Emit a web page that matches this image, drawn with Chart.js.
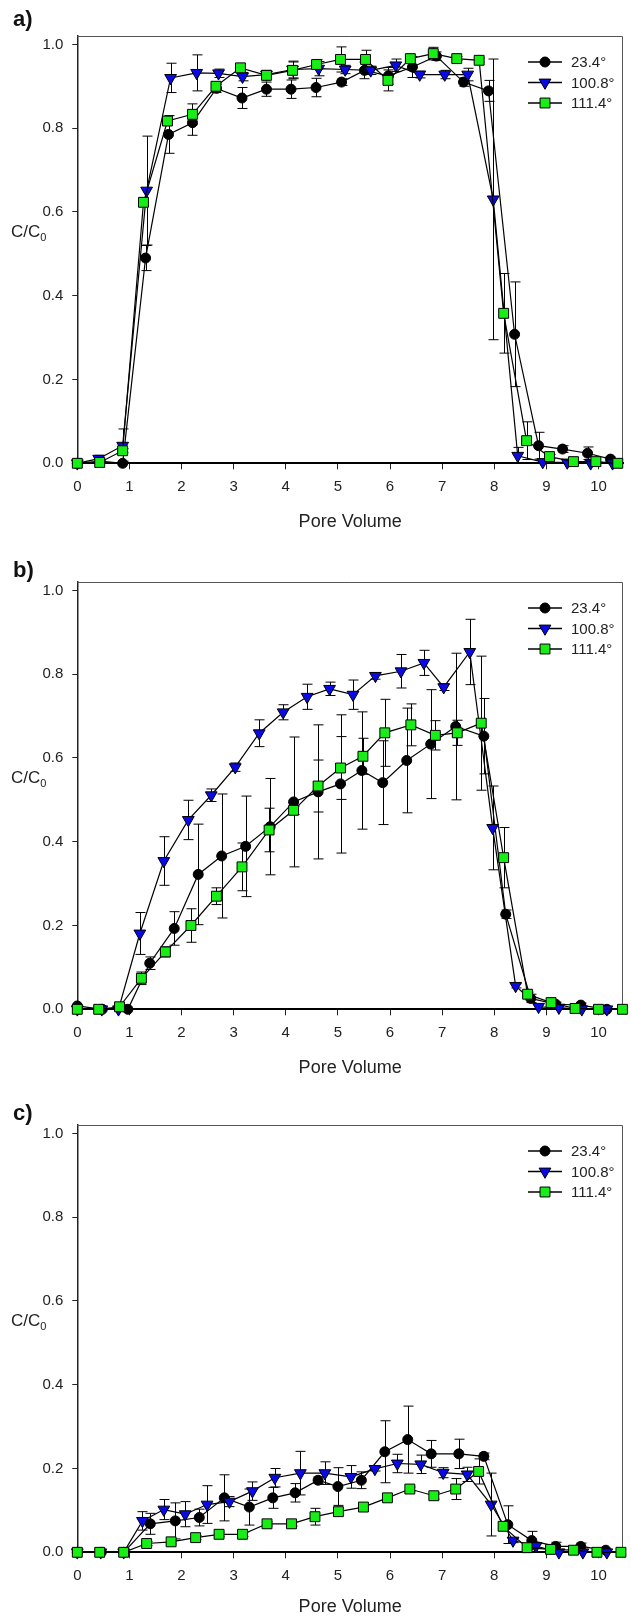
<!DOCTYPE html>
<html>
<head>
<meta charset="utf-8">
<script src="https://cdn.jsdelivr.net/npm/chart.js@4.4.0/dist/chart.umd.min.js"></script>
<style>
  body { margin: 0; background: #fff; width: 631px; height: 1617px; position: relative; overflow: hidden;
         font-family: "Liberation Sans", Arial, sans-serif; color: #222; }
  .panel { position: absolute; left: 0; width: 631px; }
  .panel canvas { position: absolute; left: 0; top: 0; }
  .tag { position: absolute; left: 13px; font: bold 22px "Liberation Sans", Arial, sans-serif; line-height: 1; color: #111; }
  .ylab { position: absolute; left: 11px; top: 223px; font-size: 17px; line-height: 1; }
  .ylab sub { font-size: 11px; vertical-align: -4px; }
</style>
</head>
<body>
<div class="panel" style="top:0px;height:546px">
  <canvas id="ca" width="631" height="546"></canvas>
  <div class="tag" style="top:8px">a)</div>
  <div class="ylab">C/C<sub>0</sub></div>
</div>
<div class="panel" style="top:546px;height:543px">
  <canvas id="cb" width="631" height="543"></canvas>
  <div class="tag" style="top:13px">b)</div>
  <div class="ylab">C/C<sub>0</sub></div>
</div>
<div class="panel" style="top:1089px;height:528px">
  <canvas id="cc" width="631" height="528"></canvas>
  <div class="tag" style="top:13px">c)</div>
  <div class="ylab">C/C<sub>0</sub></div>
</div>
<script>
const seriesNames = ['23.4°', '100.8°', '111.4°'];
const xTicks = [0, 1, 2, 3, 4, 5, 6, 7, 8, 9, 10];
const yTicks = [0, 0.2, 0.4, 0.6, 0.8, 1.0];

// panel a
const aX1 = [0, 0.44, 0.87, 1.31, 1.75, 2.21, 2.67, 3.16, 3.63, 4.10, 4.58, 5.07, 5.51, 5.97, 6.43, 6.89, 7.41, 7.89, 8.39, 8.85, 9.31, 9.79, 10.23];
const aY1 = [0, 0.005, 0, 0.49, 0.785, 0.813, 0.895, 0.872, 0.893, 0.893, 0.897, 0.91, 0.938, 0.925, 0.946, 0.972, 0.91, 0.889, 0.308, 0.042, 0.034, 0.024, 0.01];
const aE1 = [0, 0.005, 0.005, 0.03, 0.045, 0.03, 0.01, 0.025, 0.017, 0.022, 0.022, 0.008, 0.02, 0.02, 0.025, 0.01, 0.01, 0.025, 0.125, 0.032, 0.008, 0.015, 0.005];
const aX2 = [0, 0.41, 0.87, 1.33, 1.79, 2.29, 2.71, 3.17, 3.63, 4.13, 4.63, 5.14, 5.63, 6.11, 6.57, 7.05, 7.49, 7.98, 8.45, 8.93, 9.40, 9.85, 10.27];
const aY2 = [0, 0.011, 0.042, 0.651, 0.92, 0.932, 0.931, 0.923, 0.928, 0.94, 0.942, 0.94, 0.938, 0.95, 0.928, 0.928, 0.928, 0.63, 0.018, 0.003, 0.002, 0, 0];
const aE2 = [0, 0.008, 0.04, 0.13, 0.035, 0.043, 0.01, 0.01, 0.01, 0.02, 0.017, 0.01, 0.01, 0.015, 0.008, 0.01, 0.015, 0.335, 0.02, 0.003, 0.002, 0.002, 0.002];
const aX3 = [0, 0.43, 0.87, 1.27, 1.73, 2.21, 2.66, 3.13, 3.63, 4.13, 4.59, 5.05, 5.53, 5.96, 6.39, 6.83, 7.28, 7.71, 8.18, 8.62, 9.06, 9.52, 9.95, 10.37];
const aY3 = [0, 0.002, 0.03, 0.623, 0.817, 0.833, 0.9, 0.944, 0.926, 0.938, 0.952, 0.964, 0.964, 0.914, 0.966, 0.978, 0.966, 0.962, 0.358, 0.054, 0.016, 0.004, 0.004, 0];
const aE3 = [0, 0.003, 0.005, 0.01, 0.01, 0.025, 0.005, 0.008, 0.008, 0.02, 0.012, 0.03, 0.022, 0.025, 0.005, 0.015, 0.005, 0.005, 0.095, 0.045, 0.005, 0.003, 0.003, 0];

// panel b
const bX1 = [0, 0.48, 0.97, 1.39, 1.86, 2.32, 2.77, 3.23, 3.70, 4.15, 4.62, 5.05, 5.46, 5.86, 6.32, 6.78, 7.26, 7.80, 8.22, 8.70, 9.18, 9.66, 10.16];
const bY1 = [0.008, 0, 0, 0.11, 0.193, 0.322, 0.366, 0.389, 0.436, 0.495, 0.519, 0.538, 0.57, 0.541, 0.594, 0.633, 0.675, 0.652, 0.227, 0.026, 0.012, 0.01, 0];
const bE1 = [0, 0, 0, 0.015, 0.04, 0.12, 0.148, 0.12, 0.115, 0.155, 0.16, 0.165, 0.14, 0.1, 0.125, 0.13, 0.175, 0.09, 0.01, 0.01, 0.005, 0.005, 0];
const bX2 = [0, 0.47, 0.79, 1.20, 1.66, 2.13, 2.57, 3.03, 3.49, 3.95, 4.41, 4.84, 5.29, 5.72, 6.21, 6.65, 7.03, 7.53, 7.97, 8.41, 8.85, 9.24, 9.68, 10.16];
const bY2 = [0, 0, 0, 0.181, 0.354, 0.452, 0.511, 0.578, 0.659, 0.709, 0.746, 0.765, 0.751, 0.796, 0.807, 0.827, 0.769, 0.853, 0.433, 0.056, 0.006, 0.004, 0, 0];
const bE2 = [0, 0, 0, 0.05, 0.058, 0.047, 0.015, 0.01, 0.032, 0.018, 0.03, 0.016, 0.035, 0.008, 0.04, 0.03, 0.008, 0.078, 0.1, 0.005, 0.003, 0.003, 0, 0];
const bX3 = [0, 0.41, 0.81, 1.23, 1.69, 2.18, 2.67, 3.16, 3.68, 4.15, 4.62, 5.05, 5.48, 5.90, 6.40, 6.87, 7.29, 7.75, 8.18, 8.64, 9.09, 9.55, 10.0, 10.46];
const bY3 = [0, 0, 0.006, 0.074, 0.137, 0.2, 0.27, 0.34, 0.428, 0.475, 0.533, 0.576, 0.604, 0.66, 0.679, 0.654, 0.66, 0.683, 0.362, 0.036, 0.016, 0.002, 0, 0];
const bE3 = [0, 0, 0.005, 0.015, 0.012, 0.04, 0.02, 0.057, 0.052, 0.01, 0.062, 0.075, 0.043, 0.08, 0.05, 0.035, 0.03, 0.16, 0.072, 0.005, 0.005, 0.002, 0, 0];

// panel c
const cX1 = [0, 0.46, 0.89, 1.40, 1.88, 2.34, 2.82, 3.30, 3.75, 4.18, 4.62, 5.00, 5.45, 5.90, 6.34, 6.79, 7.32, 7.80, 8.26, 8.72, 9.18, 9.66, 10.14];
const cY1 = [0, 0, 0, 0.068, 0.075, 0.083, 0.13, 0.108, 0.13, 0.142, 0.172, 0.157, 0.172, 0.24, 0.269, 0.235, 0.235, 0.229, 0.066, 0.028, 0.014, 0.014, 0.005];
const cE1 = [0, 0, 0, 0.025, 0.043, 0.02, 0.055, 0.043, 0.025, 0.022, 0.008, 0.045, 0.02, 0.074, 0.08, 0.032, 0.035, 0.008, 0.045, 0.022, 0.01, 0.008, 0.003];
const cX2 = [0, 0.45, 0.89, 1.25, 1.66, 2.07, 2.49, 2.92, 3.36, 3.79, 4.28, 4.75, 5.25, 5.71, 6.14, 6.59, 7.02, 7.48, 7.94, 8.36, 8.80, 9.24, 9.70, 10.16];
const cY2 = [0, 0, 0, 0.075, 0.102, 0.091, 0.114, 0.121, 0.146, 0.178, 0.189, 0.189, 0.18, 0.199, 0.212, 0.21, 0.19, 0.186, 0.114, 0.028, 0.015, 0, 0, 0];
const cE2 = [0, 0, 0, 0.022, 0.024, 0.03, 0.045, 0.012, 0.022, 0.022, 0.052, 0.027, 0.027, 0.005, 0.022, 0.022, 0.012, 0.017, 0.075, 0.005, 0.005, 0, 0, 0];
const cX3 = [0, 0.43, 0.89, 1.33, 1.80, 2.27, 2.72, 3.17, 3.64, 4.11, 4.56, 5.01, 5.49, 5.95, 6.38, 6.84, 7.26, 7.70, 8.17, 8.63, 9.08, 9.52, 9.97, 10.43];
const cY3 = [0, 0, 0, 0.021, 0.025, 0.035, 0.043, 0.043, 0.068, 0.068, 0.085, 0.097, 0.108, 0.13, 0.151, 0.135, 0.151, 0.193, 0.062, 0.011, 0.007, 0.005, 0, 0];
const cE3 = [0, 0, 0, 0.005, 0.005, 0.005, 0.005, 0.005, 0.005, 0.005, 0.02, 0.008, 0.005, 0.005, 0.005, 0.008, 0.025, 0.03, 0.005, 0.003, 0.003, 0.002, 0, 0];

const markers = [
  { pointStyle: 'circle', radius: 5, rotation: 0, fill: '#000' },
  { pointStyle: 'triangle', radius: 6.8, rotation: 180, fill: '#0a0ae6' },
  { pointStyle: 'rect', radius: 7, rotation: 0, fill: '#16ee16' }
];

const PLOT_TOP = 36, PLOT_BOTTOM = 463.3, PLOT_LEFT = 77.3;

// vertical error bars with caps, drawn behind the markers
const errorBars = {
  id: 'errorBars',
  beforeDatasetsDraw(chart) {
    const { ctx, scales: { x, y } } = chart;
    ctx.save();
    ctx.strokeStyle = '#000';
    ctx.lineWidth = 1;
    chart.data.datasets.forEach(ds => {
      ds.data.forEach((p, i) => {
        const e = ds.errors[i];
        if (!e || e < 0.004) return;
        const px = Math.round(x.getPixelForValue(p.x)) + 0.5;
        const top = y.getPixelForValue(p.y + e);
        const bot = y.getPixelForValue(Math.max(p.y - e, 0));
        ctx.beginPath();
        ctx.moveTo(px, top); ctx.lineTo(px, bot);
        ctx.moveTo(px - 5, top); ctx.lineTo(px + 5, top);
        ctx.moveTo(px - 5, bot); ctx.lineTo(px + 5, bot);
        ctx.stroke();
      });
    });
    ctx.restore();
  }
};

// top and right sides of the frame
const frame = {
  id: 'frame',
  beforeDatasetsDraw(chart) {
    const { ctx, chartArea: a } = chart;
    ctx.save();
    ctx.strokeStyle = '#555';
    ctx.lineWidth = 1;
    ctx.beginPath();
    ctx.moveTo(a.left, a.top + 0.5);
    ctx.lineTo(a.right - 0.5, a.top + 0.5);
    ctx.lineTo(a.right - 0.5, a.bottom);
    ctx.stroke();
    ctx.restore();
  }
};

function drawMarker(ctx, m, x, y) {
  ctx.fillStyle = m.fill;
  ctx.strokeStyle = '#000';
  ctx.lineWidth = 1;
  Chart.helpers.drawPoint(ctx, { pointStyle: m.pointStyle, radius: m.radius, rotation: m.rotation, borderWidth: 1 }, x, y);
}

// SigmaPlot style legend: line with marker, then label
const lineLegend = {
  id: 'lineLegend',
  afterDraw(chart) {
    const { ctx } = chart;
    ctx.save();
    ctx.font = '15px "Liberation Sans", Arial, sans-serif';
    ctx.textBaseline = 'middle';
    seriesNames.forEach((name, i) => {
      const yy = 62 + i * 20.5;
      ctx.strokeStyle = '#000';
      ctx.lineWidth = 1.5;
      ctx.beginPath();
      ctx.moveTo(528, yy); ctx.lineTo(562, yy);
      ctx.stroke();
      drawMarker(ctx, markers[i], 545, yy);
      ctx.fillStyle = '#222';
      ctx.fillText(name, 571, yy + 1);
    });
    ctx.restore();
  }
};

function makeDataset(xs, ys, es, i) {
  const m = markers[i];
  return {
    label: seriesNames[i],
    data: xs.map((v, k) => ({ x: v, y: ys[k] })),
    errors: es,
    showLine: true,
    borderColor: '#000',
    borderWidth: 1.2,
    pointStyle: m.pointStyle,
    pointRadius: m.radius,
    pointRotation: m.rotation,
    pointBackgroundColor: m.fill,
    pointBorderColor: '#000',
    pointBorderWidth: 1,
    clip: false,
    order: 3 - i
  };
}

function makeChart(id, h, titleY, datasets) {
  return new Chart(document.getElementById(id), {
    type: 'scatter',
    data: { datasets },
    options: {
      responsive: false,
      animation: false,
      layout: { padding: { top: PLOT_TOP, right: 5, left: 0, bottom: 0 } },
      plugins: { legend: { display: false }, tooltip: { enabled: false } },
      scales: {
        x: {
          type: 'linear', min: 0, max: 10.47,
          afterFit(s) { s.height = h - PLOT_BOTTOM; },
          afterBuildTicks(s) { s.ticks = xTicks.map(v => ({ value: v })); },
          grid: { drawOnChartArea: false, tickLength: 6, color: '#222' },
          border: { color: '#000', width: 2 },
          ticks: { color: '#222', font: { size: 15, family: '"Liberation Sans", Arial, sans-serif' }, padding: 9, maxRotation: 0, autoSkip: false },
          title: { display: true, text: 'Pore Volume', color: '#222',
                   font: { size: 18, family: '"Liberation Sans", Arial, sans-serif', lineHeight: 1 },
                   padding: { top: 0, bottom: h - titleY - 9 } }
        },
        y: {
          min: 0, max: 1.02,
          afterFit(s) { s.width = PLOT_LEFT; },
          afterBuildTicks(s) { s.ticks = yTicks.map(v => ({ value: v })); },
          grid: { drawOnChartArea: false, tickLength: 5, color: '#222' },
          border: { color: '#222', width: 1.5 },
          ticks: { color: '#222', font: { size: 15, family: '"Liberation Sans", Arial, sans-serif' }, padding: 9,
                   callback: v => v.toFixed(1) }
        }
      }
    },
    plugins: [errorBars, frame, lineLegend]
  });
}

makeChart('ca', 546, 522, [makeDataset(aX1, aY1, aE1, 0), makeDataset(aX2, aY2, aE2, 1), makeDataset(aX3, aY3, aE3, 2)]);
makeChart('cb', 543, 522, [makeDataset(bX1, bY1, bE1, 0), makeDataset(bX2, bY2, bE2, 1), makeDataset(bX3, bY3, bE3, 2)]);
makeChart('cc', 528, 518, [makeDataset(cX1, cY1, cE1, 0), makeDataset(cX2, cY2, cE2, 1), makeDataset(cX3, cY3, cE3, 2)]);
</script>
</body>
</html>
